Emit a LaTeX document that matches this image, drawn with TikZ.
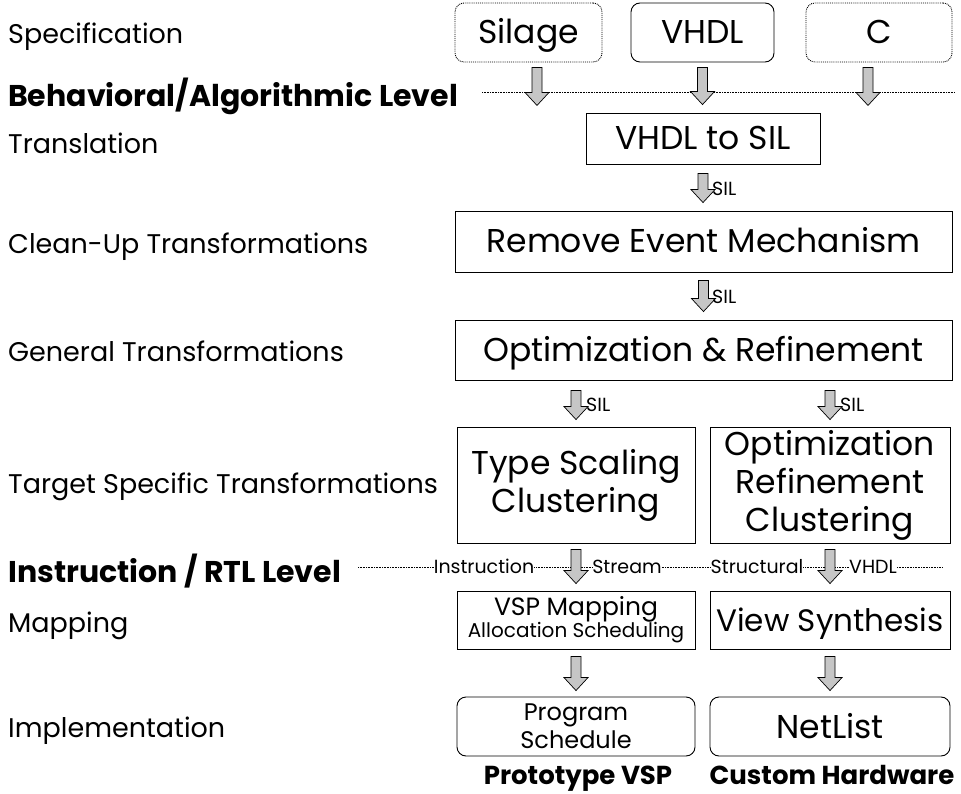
\documentclass[tikz,border=0pt]{standalone}
\usepackage{fontspec}
\setmainfont{Poppins}
\usetikzlibrary{calc}

% block arrow with a patterned look, from #1 (tail) down to #2 (tip)
\newcommand\fatarrow[2]{%
  \filldraw[fatarrowstyle] let \p1=(#1), \p2=(#2) in
    (\x1-5pt,\y1) -- (\x1+5pt,\y1) -- (\x1+5pt,\y2+13pt) -- (\x1+12pt,\y2+13pt)
    -- (\x1,\y2) -- (\x1-12pt,\y2+13pt) -- (\x1-5pt,\y2+13pt) -- cycle;}

\begin{document}
\begin{tikzpicture}[x=1pt,y=-1pt,
  fatarrowstyle/.style={draw=black, fill=gray!45, line width=0.7pt, line join=miter},
  lvl/.style={anchor=west, inner sep=0pt, text height=19pt, text depth=0pt, font=\fontsize{27}{30}\selectfont},
  lvlbold/.style={anchor=west, inner sep=0pt, text height=21pt, text depth=0pt, font=\fontsize{30}{33}\selectfont\bfseries},
  box/.style={draw, line width=0.9pt, inner sep=0pt, align=center},
  rbox/.style={box, rounded corners=9pt},
  dbox/.style={rbox, densely dotted},
  big/.style={font=\fontsize{33}{38}\selectfont},
  one/.style={text height=23pt, text depth=0pt},
  lab/.style={inner sep=0pt, text height=13.3pt, text depth=0pt, font=\fontsize{19}{22}\selectfont},
  target/.style={inner sep=0pt, text height=18.5pt, text depth=0pt, font=\fontsize{26}{28}\selectfont\bfseries},
  dotline/.style={densely dotted, line width=0.6pt}
]
\useasboundingbox (0,0) rectangle (961,794);

% level names on the left
\node[lvl] (lspec) at (8,34) {Specification};
\node[lvlbold] (lbeh) at (8,96) {Behavioral/Algorithmic Level};
\node[lvl] (ltrans) at (8,144) {Translation};
\node[lvl] (lclean) at (8,244) {Clean-Up Transformations};
\node[lvl] (lgen) at (8,352) {General Transformations};
\node[lvl] (ltarget) at (8,484) {Target Specific Transformations};
\node[lvlbold] (lrtl) at (8,572) {Instruction / RTL Level};
\node[lvl] (lmap) at (8,623) {Mapping};
\node[lvl] (limpl) at (8,728) {Implementation};

% behavioral level separator
\coordinate (behL) at (482,92);
\coordinate (behR) at (955,92);
\draw[dotline] (behL) -- (behR);

% source languages
\node[dbox, big, one, minimum width=147, minimum height=59] (silage) at (528.5,32.5) {Silage};
\node[rbox, big, one, minimum width=143, minimum height=59] (vhdl) at (702.5,32.5) {VHDL};
\node[dbox, big, one, minimum width=146, minimum height=59] (clang) at (879,32.5) {C};

% processing steps
\node[box, big, one, minimum width=234, minimum height=51] (v2s) at (703,138.5) {VHDL to SIL};
\node[box, big, one, minimum width=497, minimum height=61] (rem) at (703.5,241.5) {Remove Event Mechanism};
\node[box, big, one, minimum width=497, minimum height=60] (opt) at (703.5,350) {Optimization \& Refinement};
\node[box, big, minimum width=238, minimum height=116] (ts) at (576,485) {\raisebox{-3pt}{Type Scaling}\\\raisebox{-3pt}{Clustering}};
\node[box, big, minimum width=240, minimum height=116] (orc) at (830,485) {Optimization\\Refinement\\Clustering};
\node[box, minimum width=238, minimum height=58] (vsp) at (576,620)
  {{\fontsize{25}{25}\selectfont VSP Mapping}\\[-1pt]{\fontsize{20}{20}\selectfont Allocation Scheduling}};
\node[box, one, minimum width=240, minimum height=58, font=\fontsize{31}{36}\selectfont] (vs) at (830,620) {View Synthesis};
\node[rbox, minimum width=238, minimum height=59, font=\fontsize{24}{28}\selectfont] (ps) at (576,726.5) {Program\\Schedule};
\node[rbox, big, one, minimum width=240, minimum height=59] (nl) at (830,726.5) {NetList};

% target names
\node[target] (tvsp) at (578,775) {Prototype VSP};
\node[target] (thw) at (832,775) {Custom Hardware};

% instruction / RTL level separator with stream labels
\node[lab] (instr) at (484,567) {Instruction};
\node[lab] (stream) at (627,567) {Stream};
\node[lab] (struct) at (757,567) {Structural};
\node[lab] (vhdlout) at (873,567) {VHDL};
\coordinate (rtlL) at (358,567);
\coordinate (rtlR) at (943,567);
\draw[dotline] (rtlL) -- (instr.west);
\draw[dotline] (instr.east) -- (stream.west);
\draw[dotline] (stream.east) -- (struct.west);
\draw[dotline] (struct.east) -- (vhdlout.west);
\draw[dotline] (vhdlout.east) -- (rtlR);

% flow arrows
\fatarrow{[xshift=8.5pt,yshift=-5pt]silage.south}{$(silage.south)+(8.5,43)$}
\fatarrow{[yshift=-5pt]vhdl.south}{[yshift=8pt]v2s.north}
\fatarrow{[xshift=-11pt,yshift=-5pt]clang.south}{$(clang.south)+(-11,43)$}
\fatarrow{[yshift=-9pt]v2s.south}{[yshift=8pt]rem.north}
\fatarrow{[yshift=-8pt]rem.south}{[yshift=8pt]opt.north}
\fatarrow{[yshift=-10pt]ts.north |- opt.south}{[yshift=7pt]ts.north}
\fatarrow{[yshift=-10pt]orc.north |- opt.south}{[yshift=7pt]orc.north}
\fatarrow{[yshift=-6pt]ts.south}{[yshift=7pt]vsp.north}
\fatarrow{[yshift=-6pt]orc.south}{[yshift=7pt]vs.north}
\fatarrow{[yshift=-7pt]vsp.south}{[yshift=6pt]ps.north}
\fatarrow{[yshift=-7pt]vs.south}{[yshift=6pt]nl.north}

% data format labels beside the arrows
\node[lab, anchor=west] (sil1) at (712,189) {SIL};
\node[lab, anchor=west] (sil2) at (712,297) {SIL};
\node[lab, anchor=west] (sil3) at (586,405) {SIL};
\node[lab, anchor=west] (sil4) at (840,405) {SIL};
\end{tikzpicture}
\end{document}
